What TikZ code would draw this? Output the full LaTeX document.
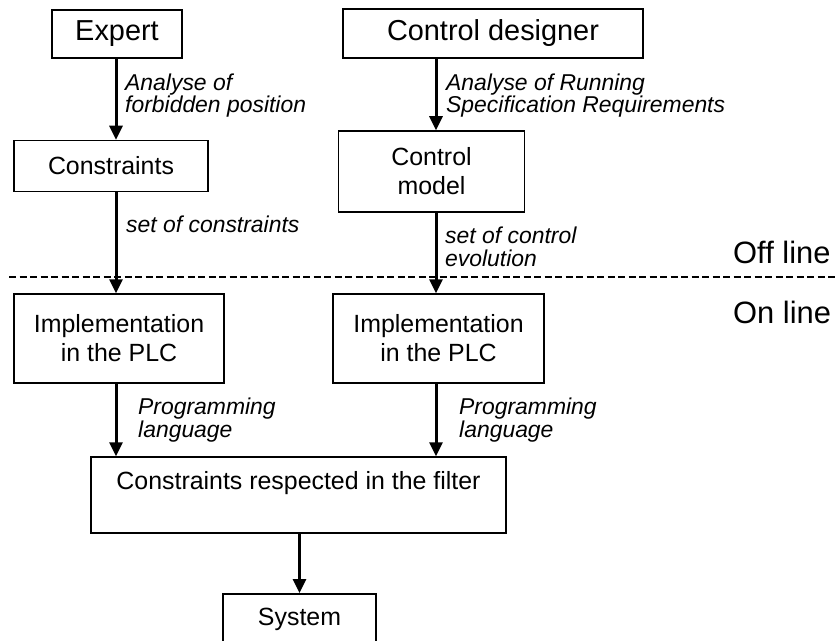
\documentclass[tikz,border=0pt]{standalone}
\usepackage{fontspec}
\setmainfont{Liberation Sans}
\usetikzlibrary{arrows.meta}

\begin{document}
\begin{tikzpicture}[x=1bp,y=-1bp,
  bigbox/.style={draw, line width=1.5bp, inner sep=0pt, align=center,
    font=\fontsize{29}{33}\selectfont},
  smallbox/.style={draw, line width=1.5bp, inner sep=0pt, align=center,
    font=\fontsize{25}{29}\selectfont},
  flow/.style={-{Triangle[width=13bp,length=14bp]}, line width=3bp},
  note/.style={font=\fontsize{23}{23}\selectfont\itshape, align=left,
    anchor=base west, inner sep=0pt},
  phase/.style={font=\fontsize{31}{35}\selectfont, anchor=base west, inner sep=0pt},
  divider/.style={line width=2bp, dash pattern=on 7bp off 3.5bp}]

\useasboundingbox (0,0) rectangle (838,641);

% boxes
\node[bigbox, minimum width=130bp, minimum height=48bp] (expert) at (117,34) {Expert};
\node[bigbox, minimum width=300bp, minimum height=49bp] (designer) at (493,33.5) {Control designer};
\node[smallbox, minimum width=194bp, minimum height=51bp] (constr) at (111,166) {Constraints};
\node[smallbox, minimum width=186bp, minimum height=81bp] (cmodel) at (431.5,171.5) {Control\\model};
\node[smallbox, minimum width=210bp, minimum height=89bp] (implA) at (119,338.5) {Implementation\\in the PLC};
\node[smallbox, minimum width=211bp, minimum height=89bp] (implB) at (438.5,338.5) {Implementation\\in the PLC};
\node[smallbox, minimum width=415bp, minimum height=76bp] (filter) at (298.5,495) {Constraints respected in the filter\\\mbox{}};
\node[smallbox, minimum width=153bp, minimum height=52bp, anchor=north] (system) at (299.5,593) {\raisebox{4bp}{System}};

% columns of the vertical flows
\coordinate (colA) at (116,0);
\coordinate (colB) at (436,0);

\draw[flow] (expert.south -| colA) -- (constr.north -| colA);
\draw[flow] (constr.south -| colA) -- (implA.north -| colA);
\draw[flow] (implA.south -| colA) -- (filter.north -| colA);
\draw[flow] (designer.south -| colB) -- (cmodel.north -| colB);
\draw[flow] (cmodel.south -| colB) -- (implB.north -| colB);
\draw[flow] (implB.south -| colB) -- (filter.north -| colB);
\draw[flow] (filter.south -| system.north) -- (system.north);

% off line / on line separation
\coordinate (dashL) at (9,277);
\coordinate (dashR) at (840,277);
\draw[divider] (dashL) -- (dashR);

% flow labels (base = baseline of the last line)
\node[note] (lblA1) at (125,113) {Analyse of\\forbidden position};
\node[note] (lblB1) at (446,113) {Analyse of Running\\Specification Requirements};
\node[note] (lblA2) at (126,233) {set of constraints};
\node[note] (lblB2) at (445,266) {set of control\\evolution};
\node[note] (lblA3) at (138,437) {Programming\\language};
\node[note] (lblB3) at (459,437) {Programming\\language};

\node[phase] (offline) at (733,263) {Off line};
\node[phase] (online) at (733,323) {On line};
\end{tikzpicture}
\end{document}
